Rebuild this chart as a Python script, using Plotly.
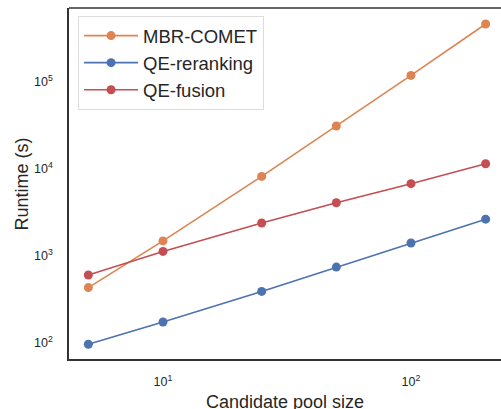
import plotly.graph_objects as go

pool_sizes = [5, 10, 25, 50, 100, 200]
mbr_comet = [430, 1480, 8150, 31000, 118000, 460000]
qe_reranking = [96, 173, 389, 740, 1400, 2630]
qe_fusion = [600, 1120, 2375, 4060, 6730, 11400]

series = [
    ("MBR-COMET", mbr_comet, "#DD8452"),
    ("QE-reranking", qe_reranking, "#4C72B0"),
    ("QE-fusion", qe_fusion, "#C44E52"),
]

fig = go.Figure()
for name, vals, color in series:
    fig.add_trace(go.Scatter(
        x=pool_sizes, y=vals, name=name, mode="lines+markers",
        line=dict(color=color, width=1.6),
        marker=dict(color=color, size=9),
    ))

font_family = "Liberation Sans, Arial, sans-serif"
fig.update_layout(
    width=501, height=409,
    margin=dict(l=69, r=0, t=8, b=50),
    paper_bgcolor="white", plot_bgcolor="white",
    font=dict(family=font_family, color="#262626"),
    showlegend=True,
    legend=dict(
        x=0.021, y=0.977, xanchor="left", yanchor="top",
        bgcolor="white", bordercolor="#DDDDDD", borderwidth=1,
        font=dict(size=18.5, color="#262626"),
        itemwidth=54, tracegroupgap=0,
    ),
    xaxis=dict(
        type="log", range=[0.621, 2.363], automargin=False,
        tickvals=[10, 100], ticktext=["10<sup>1</sup>", "10<sup>2</sup>"],
        showgrid=False, zeroline=False,
        showline=True, linecolor="#333333", linewidth=1.5, mirror=False,
        ticks="outside", ticklen=10, tickcolor="rgba(0,0,0,0)",
        tickfont=dict(size=12.5, color="#262626"),
    ),
    yaxis=dict(
        type="log", range=[1.813, 5.847], automargin=False,
        tickvals=[100, 1000, 10000, 100000],
        ticktext=["10<sup>2</sup>", "10<sup>3</sup>", "10<sup>4</sup>", "10<sup>5</sup>"],
        showgrid=False, zeroline=False,
        showline=True, linecolor="#333333", linewidth=1.5, mirror=False,
        ticks="outside", ticklen=12, tickcolor="rgba(0,0,0,0)",
        tickfont=dict(size=12.5, color="#262626"),
    ),
    annotations=[
        dict(text="Candidate pool size", xref="paper", yref="paper",
             x=0.5, y=-0.1225, xanchor="center", yanchor="middle",
             showarrow=False, font=dict(size=18, color="#262626")),
        dict(text="Runtime (s)", xref="paper", yref="paper",
             x=-0.1088, y=0.5, xanchor="center", yanchor="middle", textangle=-90,
             showarrow=False, font=dict(size=18, color="#262626")),
    ],
)
# top border line (no right border visible in reference)
fig.add_shape(type="line", xref="paper", yref="paper", x0=0, x1=1, y0=1, y1=1,
              line=dict(color="#333333", width=1.5))

fig.write_html("out.html")
